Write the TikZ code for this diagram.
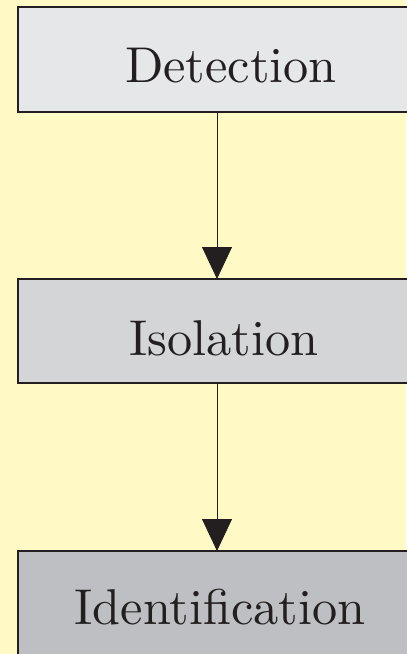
\documentclass[tikz,border=0pt]{standalone}
\usetikzlibrary{arrows.meta}
\definecolor{bgyellow}{HTML}{FFF9C6}
\definecolor{boxA}{HTML}{E6E7E9}
\definecolor{boxB}{HTML}{D4D5D7}
\definecolor{boxC}{HTML}{BEBFC2}
\definecolor{ink}{HTML}{231F20}
\begin{document}
\begin{tikzpicture}[x=1bp,y=-1bp,
  stagebox/.style={draw=ink,line width=2.5bp},
  label/.style={anchor=base,inner sep=0pt,text=ink,font=\fontsize{10}{12}\selectfont,scale=5.05},
  flow/.style={draw=ink,line width=0.8bp,-{Triangle[length=32bp,width=30bp]}}]
\fill[bgyellow] (0,0) rectangle (406,654);
\useasboundingbox (0,0) rectangle (406,654);
\filldraw[stagebox,fill=boxA] (18,7) rectangle (420,112);
\filldraw[stagebox,fill=boxB] (18,279) rectangle (420,383);
\filldraw[stagebox,fill=boxC] (18,551) rectangle (420,670);
\coordinate (a) at (217,112);
\coordinate (b) at (217,279);
\coordinate (c) at (217,383);
\coordinate (d) at (217,551);
\node[label] (t1) at (231,83) {Detection};
\node[label] (t2) at (224,355) {Isolation};
\node[label] (t3) at (220,624) {Identification};
\draw[flow] (a) -- (b);
\draw[flow] (c) -- (d);
\end{tikzpicture}
\end{document}
